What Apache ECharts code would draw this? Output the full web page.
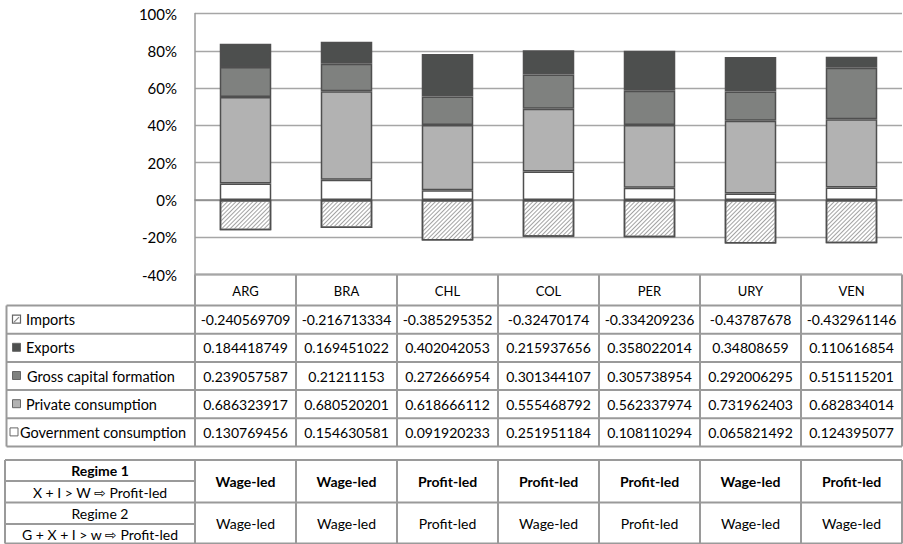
<!DOCTYPE html>
<html><head><meta charset="utf-8">
<script src="https://cdn.jsdelivr.net/npm/echarts@6/dist/echarts.min.js"></script>
<style>html,body{margin:0;padding:0;background:#fff}#c{width:903px;height:544px}</style>
</head><body><div id="c"></div>
<script>
const categories = ['ARG','BRA','CHL','COL','PER','URY','VEN'];
const imports   = [-0.240569709,-0.216713334,-0.385295352,-0.32470174,-0.334209236,-0.43787678,-0.432961146];
const exportsV  = [0.184418749,0.169451022,0.402042053,0.215937656,0.358022014,0.34808659,0.110616854];
const gcf       = [0.239057587,0.21211153,0.272666954,0.301344107,0.305738954,0.292006295,0.515115201];
const privateC  = [0.686323917,0.680520201,0.618666112,0.555468792,0.562337974,0.731962403,0.682834014];
const gov       = [0.130769456,0.154630581,0.091920233,0.251951184,0.108110294,0.065821492,0.124395077];
const tickLabels = ['-40%','-20%','0%','20%','40%','60%','80%','100%'];
const rowNames = ['Imports','Exports','Gross capital formation','Private consumption','Government consumption'];
const regime1 = ['Wage-led','Wage-led','Profit-led','Profit-led','Profit-led','Wage-led','Profit-led'];
const regime2 = ['Wage-led','Wage-led','Profit-led','Wage-led','Profit-led','Wage-led','Wage-led'];

// 100% stacked: each value as a share of the column's absolute total (as the spreadsheet chart does)
const totals = categories.map((c,i)=>Math.abs(imports[i])+exportsV[i]+gcf[i]+privateC[i]+gov[i]);
const share = arr => arr.map((v,i)=>v/totals[i]);

const FONT = 'Lato, "DejaVu Sans", sans-serif';
const BORDER = '#4f4f4f';
const chart = echarts.init(document.getElementById('c'), null, {renderer:'svg'});

const L = 195, R = 902, TOP = 13.5, BOT = 274.5;
const cw = (R - L) / categories.length;

function mk(name, data, color, extra){
  return Object.assign({
    name, type:'bar', stack:'all', data: share(data), barWidth:'51%',
    itemStyle:{color, borderColor:BORDER, borderWidth:1.5},
    emphasis:{disabled:true}, animation:false
  }, extra||{});
}

const g = [];
const LINE = '#9a9a9a';
function hl(x1,x2,y){ g.push({type:'line',shape:{x1,y1:y,x2,y2:y},style:{stroke:LINE,lineWidth:2},silent:true}); }
function vl(x,y1,y2){ g.push({type:'line',shape:{x1:x,y1,x2:x,y2},style:{stroke:LINE,lineWidth:2},silent:true}); }
function tx(text,x,y,opt){ g.push({type:'text',x,y,style:Object.assign({text,fill:'#000',font:'14px '+FONT,align:'center',verticalAlign:'middle'},opt||{}),silent:true}); }

// data table
const hTop = BOT, hBot = 305.5, rowH = 28.2, tX0 = 6.5;
hl(L,R,hTop);
for(let r=0;r<=5;r++) hl(tX0,R,hBot+r*rowH);
vl(tX0,hBot,hBot+5*rowH);
for(let k=0;k<=7;k++) vl(L+k*cw,hTop,hBot+5*rowH);
categories.forEach((c,i)=>tx(c,L+(i+0.5)*cw,(hTop+hBot)/2+1,{font:'13px '+FONT}));
const rows = [imports,exportsV,gcf,privateC,gov];
const keyFill = [null,'#4d4f4e','#7f817f','#b2b2b2','#ffffff'];
rows.forEach((arr,r)=>{
  const yc = hBot + (r+0.5)*rowH;
  const kx = r===4 ? 10 : 12.5;
  if(r===0){
    g.push({type:'rect',shape:{x:kx,y:yc-4.5,width:8,height:8},style:{fill:'#fff',stroke:'#666',lineWidth:1.2},silent:true});
    g.push({type:'line',shape:{x1:kx+1.5,y1:yc+2.5,x2:kx+6.5,y2:yc-2.5},style:{stroke:'#888',lineWidth:1.2},silent:true});
  } else {
    g.push({type:'rect',shape:{x:kx,y:yc-4.5,width:8,height:8},style:{fill:keyFill[r],stroke:'#666',lineWidth:1},silent:true});
  }
  const lx = r===4 ? 20 : (r===2 ? 27 : 26);
  tx(rowNames[r],lx,yc,{align:'left',font:'14.5px '+FONT});
  arr.forEach((v,i)=>tx(String(v),L+(i+0.5)*cw,yc,{font:'14px '+FONT}));
});

// regime table
const gTop = 460, gMid = 502.5, gBot = 543.5, gX0 = 5;
hl(gX0,R,gTop); hl(gX0,R,gMid); hl(gX0,R,gBot);
hl(gX0,L,481); hl(gX0,L,524);
vl(gX0,gTop,gBot);
for(let k=0;k<=7;k++) vl(L+k*cw,gTop,gBot);
tx('Regime 1',(gX0+L)/2,470.5,{font:'bold 14px '+FONT});
tx('X + I > W \u21E8 Profit-led',(gX0+L)/2,492,{font:'14px '+FONT});
tx('Regime 2',(gX0+L)/2,513.5,{font:'14px '+FONT});
tx('G + X + I > w \u21E8 Profit-led',(gX0+L)/2,534,{font:'14px '+FONT});
regime1.forEach((t,i)=>tx(t,L+(i+0.5)*cw,(gTop+gMid)/2,{font:'bold 14px '+FONT}));
regime2.forEach((t,i)=>tx(t,L+(i+0.5)*cw,(gMid+gBot)/2,{font:'14px '+FONT}));

chart.setOption({
  animation:false,
  grid:{left:L,right:903-R,top:TOP,bottom:544-BOT,containLabel:false},
  xAxis:{type:'category',data:categories,
    axisLine:{onZero:true,lineStyle:{color:'#8c8c8c',width:1.5}},
    axisTick:{show:false},axisLabel:{show:false},splitLine:{show:false}},
  yAxis:{type:'value',min:-0.4,max:1.0,interval:0.2,
    axisLine:{show:true,lineStyle:{color:'#9a9a9a',width:1.5}},
    axisTick:{show:false},
    splitLine:{show:true,lineStyle:{color:'#a6a6a6',width:1.3}},
    axisLabel:{color:'#000',fontSize:15,fontFamily:FONT,margin:18,
      formatter:v=>tickLabels[Math.round((v+0.4)/0.2)]}},
  series:[
    mk('Government consumption',gov,'#ffffff'),
    mk('Private consumption',privateC,'#b2b2b2'),
    mk('Gross capital formation',gcf,'#7f817f'),
    mk('Exports',exportsV,'#4d4f4e'),
    mk('Imports',imports,'#ffffff',{itemStyle:{color:'#ffffff',borderColor:BORDER,borderWidth:1.5,
      decal:{symbol:'rect',symbolSize:1,color:'#a3a3a3',dashArrayX:[1,0],dashArrayY:[1,2],rotation:-Math.PI/4}}})
  ],
  graphic:g
});
</script></body></html>
